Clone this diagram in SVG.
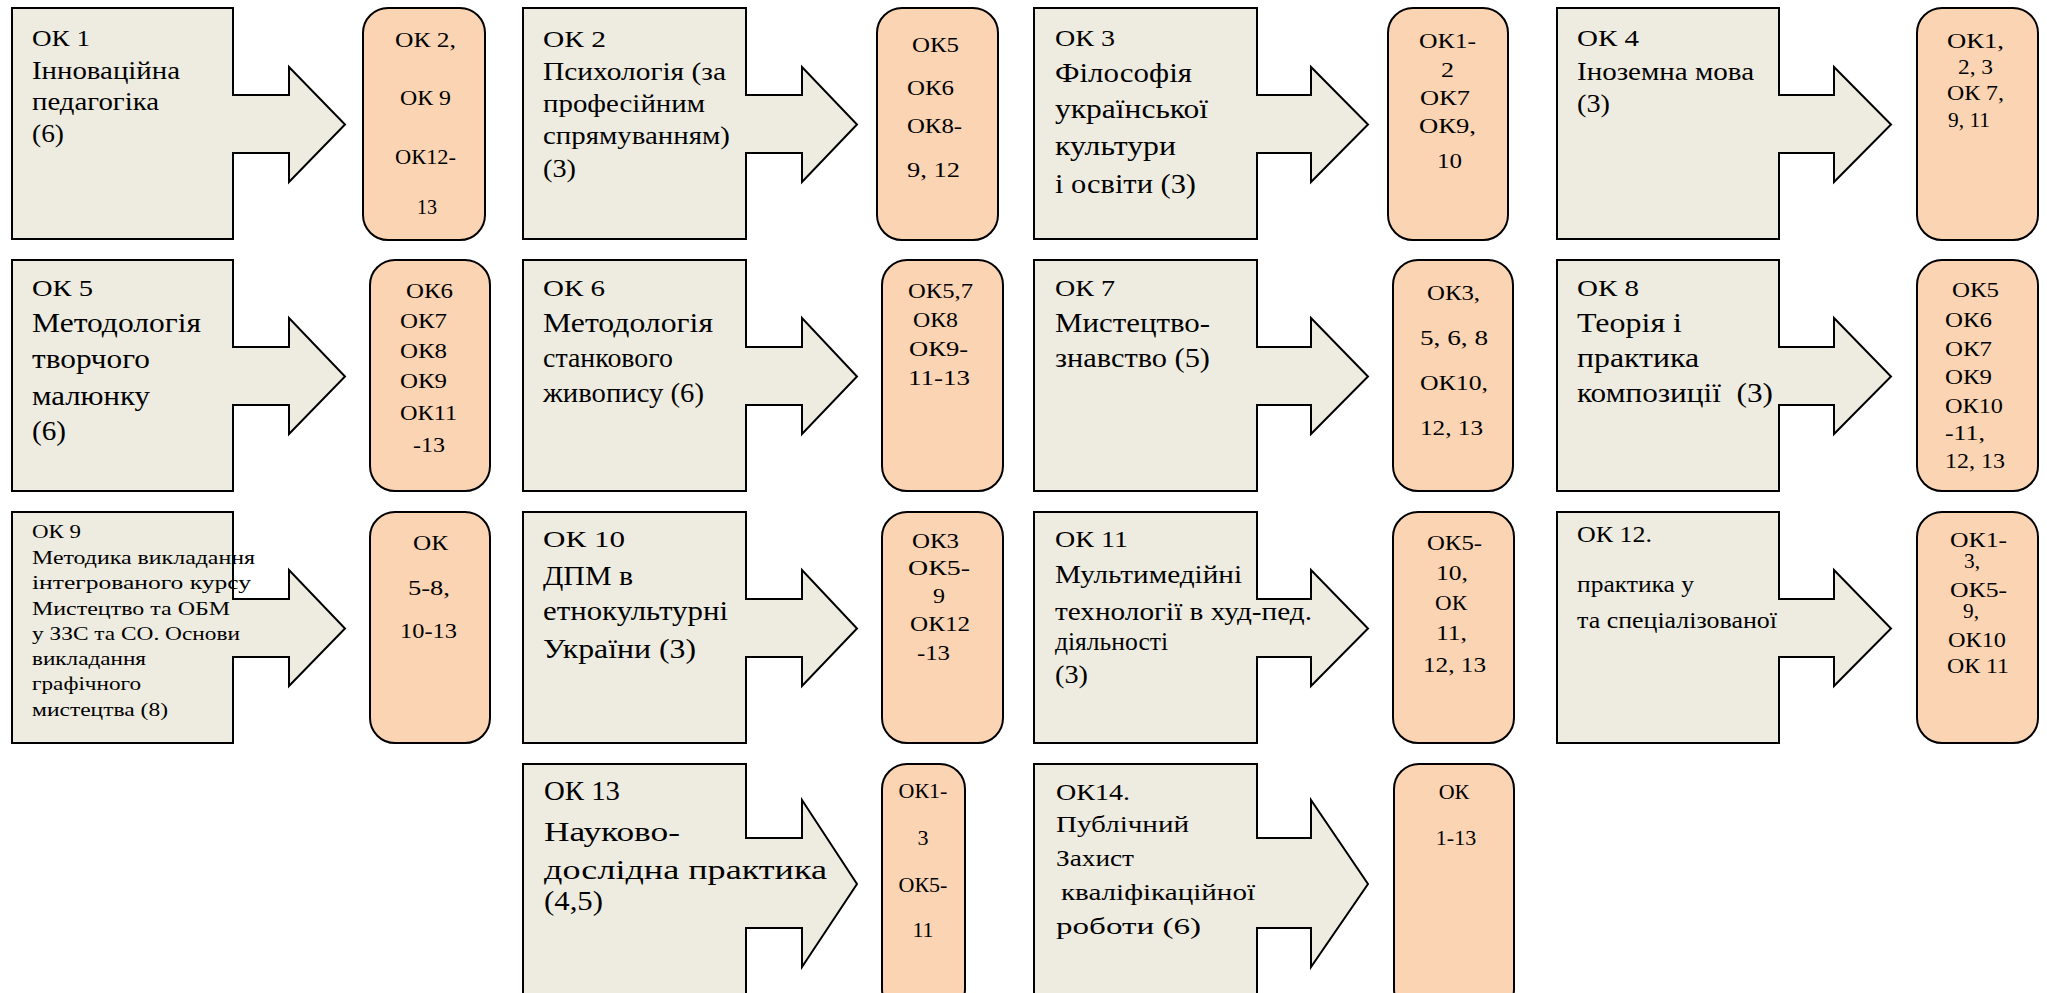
<svg xmlns="http://www.w3.org/2000/svg" width="2047" height="993" viewBox="0 0 2047 993" font-family="'Liberation Serif', Tinos, 'DejaVu Serif', serif">
<style>
.box{fill:#EEECE1;stroke:#000;stroke-width:2;stroke-linejoin:miter}
.rb{fill:#FBD4B4;stroke:#000;stroke-width:2}
text{font-family:'Liberation Serif', Tinos, 'DejaVu Serif', serif;fill:#000}
.a{font-size:24px}
.d{font-size:26px}
.b{font-size:27px}
.c{font-size:18px}
.r{font-size:22px}
</style>
<rect width="2047" height="993" fill="#fff"/>
<g id="connectors"></g>

<!-- Row 1 -->
<g id="ok1">
<path class="box" d="M12,8H233V95H289V67L345,124.5L289,182V153H233V239H12Z"/>
<text class="a" x="32" y="46" textLength="58" lengthAdjust="spacingAndGlyphs">ОК 1</text>
<text class="d" x="32" y="79" textLength="148" lengthAdjust="spacingAndGlyphs">Інноваційна</text>
<text class="d" x="32" y="110" textLength="127" lengthAdjust="spacingAndGlyphs">педагогіка</text>
<text class="d" x="32" y="142" textLength="32" lengthAdjust="spacingAndGlyphs">(6)</text>
</g>
<g id="ok1-out">
<rect class="rb" x="363" y="8" width="122" height="232" rx="25"/>
<text class="r" x="395" y="47" textLength="61" lengthAdjust="spacingAndGlyphs">ОК 2,</text>
<text class="r" x="400" y="105" textLength="51" lengthAdjust="spacingAndGlyphs">ОК 9</text>
<text class="r" x="395" y="164" textLength="61" lengthAdjust="spacingAndGlyphs">ОК12-</text>
<text class="r" x="417" y="214" textLength="20" lengthAdjust="spacingAndGlyphs">13</text>
</g>

<g id="ok2">
<path class="box" d="M523,8H746V95H802V67L857,124.5L802,182V153H746V239H523Z"/>
<text class="a" x="543" y="47" textLength="63" lengthAdjust="spacingAndGlyphs">ОК 2</text>
<text class="d" x="543" y="80" textLength="183" lengthAdjust="spacingAndGlyphs">Психологія (за</text>
<text class="d" x="543" y="112" textLength="162" lengthAdjust="spacingAndGlyphs">професійним</text>
<text class="d" x="543" y="144" textLength="187" lengthAdjust="spacingAndGlyphs">спрямуванням)</text>
<text class="d" x="543" y="177" textLength="33" lengthAdjust="spacingAndGlyphs">(3)</text>
</g>
<g id="ok2-out">
<rect class="rb" x="877" y="8" width="121" height="232" rx="25"/>
<text class="r" x="912" y="52" textLength="47" lengthAdjust="spacingAndGlyphs">ОК5</text>
<text class="r" x="907" y="95" textLength="47" lengthAdjust="spacingAndGlyphs">ОК6</text>
<text class="r" x="907" y="133" textLength="55" lengthAdjust="spacingAndGlyphs">ОК8-</text>
<text class="r" x="907" y="177" textLength="53" lengthAdjust="spacingAndGlyphs">9, 12</text>
</g>

<g id="ok3">
<path class="box" d="M1034,8H1257V95H1311V67L1368,124.5L1311,182V153H1257V239H1034Z"/>
<text class="a" x="1055" y="46" textLength="60" lengthAdjust="spacingAndGlyphs">ОК 3</text>
<text class="b" x="1055" y="82" textLength="137" lengthAdjust="spacingAndGlyphs">Філософія</text>
<text class="b" x="1055" y="118" textLength="153" lengthAdjust="spacingAndGlyphs">української</text>
<text class="b" x="1055" y="155" textLength="121" lengthAdjust="spacingAndGlyphs">культури</text>
<text class="b" x="1055" y="193" textLength="141" lengthAdjust="spacingAndGlyphs">і освіти (3)</text>
</g>
<g id="ok3-out">
<rect class="rb" x="1388" y="8" width="120" height="232" rx="25"/>
<text class="r" x="1419" y="48" textLength="57" lengthAdjust="spacingAndGlyphs">ОК1-</text>
<text class="r" x="1441" y="77" textLength="13" lengthAdjust="spacingAndGlyphs">2</text>
<text class="r" x="1420" y="105" textLength="50" lengthAdjust="spacingAndGlyphs">ОК7</text>
<text class="r" x="1419" y="133" textLength="57" lengthAdjust="spacingAndGlyphs">ОК9,</text>
<text class="r" x="1437" y="168" textLength="25" lengthAdjust="spacingAndGlyphs">10</text>
</g>

<g id="ok4">
<path class="box" d="M1557,8H1779V95H1834V67L1891,124.5L1834,182V153H1779V239H1557Z"/>
<text class="a" x="1577" y="46" textLength="62" lengthAdjust="spacingAndGlyphs">ОК 4</text>
<text class="d" x="1577" y="80" textLength="177" lengthAdjust="spacingAndGlyphs">Іноземна мова</text>
<text class="d" x="1577" y="112" textLength="33" lengthAdjust="spacingAndGlyphs">(3)</text>
</g>
<g id="ok4-out">
<rect class="rb" x="1917" y="8" width="121" height="232" rx="25"/>
<text class="r" x="1947" y="48" textLength="57" lengthAdjust="spacingAndGlyphs">ОК1,</text>
<text class="r" x="1958" y="74" textLength="35" lengthAdjust="spacingAndGlyphs">2, 3</text>
<text class="r" x="1947" y="100" textLength="57" lengthAdjust="spacingAndGlyphs">ОК 7,</text>
<text class="r" x="1948" y="127" textLength="42" lengthAdjust="spacingAndGlyphs">9, 11</text>
</g>

<!-- Row 2 -->
<g id="ok5">
<path class="box" d="M12,260H233V347H289V318L345,376.5L289,434V405H233V491H12Z"/>
<text class="a" x="32" y="296" textLength="61" lengthAdjust="spacingAndGlyphs">ОК 5</text>
<text class="b" x="32" y="332" textLength="169" lengthAdjust="spacingAndGlyphs">Методологія</text>
<text class="b" x="32" y="368" textLength="118" lengthAdjust="spacingAndGlyphs">творчого</text>
<text class="b" x="32" y="405" textLength="118" lengthAdjust="spacingAndGlyphs">малюнку</text>
<text class="b" x="32" y="440" textLength="34" lengthAdjust="spacingAndGlyphs">(6)</text>
</g>
<g id="ok5-out">
<rect class="rb" x="370" y="260" width="120" height="231" rx="25"/>
<text class="r" x="406" y="298" textLength="47" lengthAdjust="spacingAndGlyphs">ОК6</text>
<text class="r" x="400" y="328" textLength="47" lengthAdjust="spacingAndGlyphs">ОК7</text>
<text class="r" x="400" y="358" textLength="47" lengthAdjust="spacingAndGlyphs">ОК8</text>
<text class="r" x="400" y="388" textLength="47" lengthAdjust="spacingAndGlyphs">ОК9</text>
<text class="r" x="400" y="420" textLength="57" lengthAdjust="spacingAndGlyphs">ОК11</text>
<text class="r" x="413" y="452" textLength="32" lengthAdjust="spacingAndGlyphs">-13</text>
</g>

<g id="ok6">
<path class="box" d="M523,260H746V347H802V318L857,376.5L802,434V405H746V491H523Z"/>
<text class="a" x="543" y="296" textLength="62" lengthAdjust="spacingAndGlyphs">ОК 6</text>
<text class="b" x="543" y="332" textLength="170" lengthAdjust="spacingAndGlyphs">Методологія</text>
<text class="b" x="543" y="367" textLength="130" lengthAdjust="spacingAndGlyphs">станкового</text>
<text class="b" x="543" y="402" textLength="161" lengthAdjust="spacingAndGlyphs">живопису (6)</text>
</g>
<g id="ok6-out">
<rect class="rb" x="882" y="260" width="121" height="231" rx="25"/>
<text class="r" x="908" y="298" textLength="65" lengthAdjust="spacingAndGlyphs">ОК5,7</text>
<text class="r" x="913" y="327" textLength="45" lengthAdjust="spacingAndGlyphs">ОК8</text>
<text class="r" x="909" y="356" textLength="59" lengthAdjust="spacingAndGlyphs">ОК9-</text>
<text class="r" x="908" y="385" textLength="62" lengthAdjust="spacingAndGlyphs">11-13</text>
</g>

<g id="ok7">
<path class="box" d="M1034,260H1257V347H1311V318L1368,376.5L1311,434V405H1257V491H1034Z"/>
<text class="a" x="1055" y="296" textLength="60" lengthAdjust="spacingAndGlyphs">ОК 7</text>
<text class="b" x="1055" y="332" textLength="155" lengthAdjust="spacingAndGlyphs">Мистецтво-</text>
<text class="b" x="1055" y="367" textLength="155" lengthAdjust="spacingAndGlyphs">знавство (5)</text>
</g>
<g id="ok7-out">
<rect class="rb" x="1393" y="260" width="120" height="231" rx="25"/>
<text class="r" x="1427" y="300" textLength="53" lengthAdjust="spacingAndGlyphs">ОК3,</text>
<text class="r" x="1420" y="345" textLength="68" lengthAdjust="spacingAndGlyphs">5, 6, 8</text>
<text class="r" x="1420" y="390" textLength="68" lengthAdjust="spacingAndGlyphs">ОК10,</text>
<text class="r" x="1420" y="435" textLength="63" lengthAdjust="spacingAndGlyphs">12, 13</text>
</g>

<g id="ok8">
<path class="box" d="M1557,260H1779V347H1834V318L1891,376.5L1834,434V405H1779V491H1557Z"/>
<text class="a" x="1577" y="296" textLength="62" lengthAdjust="spacingAndGlyphs">ОК 8</text>
<text class="b" x="1577" y="332" textLength="105" lengthAdjust="spacingAndGlyphs">Теорія і</text>
<text class="b" x="1577" y="367" textLength="122" lengthAdjust="spacingAndGlyphs">практика</text>
<text class="b" x="1577" y="402" textLength="196" lengthAdjust="spacingAndGlyphs" xml:space="preserve">композиції  (3)</text>
</g>
<g id="ok8-out">
<rect class="rb" x="1917" y="260" width="121" height="231" rx="25"/>
<text class="r" x="1952" y="297" textLength="47" lengthAdjust="spacingAndGlyphs">ОК5</text>
<text class="r" x="1945" y="327" textLength="47" lengthAdjust="spacingAndGlyphs">ОК6</text>
<text class="r" x="1945" y="356" textLength="47" lengthAdjust="spacingAndGlyphs">ОК7</text>
<text class="r" x="1945" y="384" textLength="47" lengthAdjust="spacingAndGlyphs">ОК9</text>
<text class="r" x="1945" y="413" textLength="58" lengthAdjust="spacingAndGlyphs">ОК10</text>
<text class="r" x="1945" y="440" textLength="40" lengthAdjust="spacingAndGlyphs">-11,</text>
<text class="r" x="1945" y="468" textLength="60" lengthAdjust="spacingAndGlyphs">12, 13</text>
</g>

<!-- Row 3 -->
<g id="ok9">
<path class="box" d="M12,512H233V599H289V570L345,628.5L289,686V657H233V743H12Z"/>
<text class="c" x="32" y="538" textLength="49" lengthAdjust="spacingAndGlyphs">ОК 9</text>
<text class="c" x="32" y="564" textLength="223" lengthAdjust="spacingAndGlyphs">Методика викладання</text>
<text class="c" x="32" y="589" textLength="219" lengthAdjust="spacingAndGlyphs">інтегрованого курсу</text>
<text class="c" x="32" y="615" textLength="198" lengthAdjust="spacingAndGlyphs">Мистецтво та ОБМ</text>
<text class="c" x="32" y="640" textLength="208" lengthAdjust="spacingAndGlyphs">у ЗЗС та СО. Основи</text>
<text class="c" x="32" y="665" textLength="114" lengthAdjust="spacingAndGlyphs">викладання</text>
<text class="c" x="32" y="690" textLength="109" lengthAdjust="spacingAndGlyphs">графічного</text>
<text class="c" x="32" y="716" textLength="136" lengthAdjust="spacingAndGlyphs">мистецтва (8)</text>
</g>
<g id="ok9-out">
<rect class="rb" x="370" y="512" width="120" height="231" rx="25"/>
<text class="r" x="413" y="550" textLength="35" lengthAdjust="spacingAndGlyphs">ОК</text>
<text class="r" x="408" y="595" textLength="42" lengthAdjust="spacingAndGlyphs">5-8,</text>
<text class="r" x="400" y="638" textLength="57" lengthAdjust="spacingAndGlyphs">10-13</text>
</g>

<g id="ok10">
<path class="box" d="M523,512H746V599H802V570L857,628.5L802,686V657H746V743H523Z"/>
<text class="a" x="543" y="547" textLength="82" lengthAdjust="spacingAndGlyphs">ОК 10</text>
<text class="b" x="543" y="585" textLength="90" lengthAdjust="spacingAndGlyphs">ДПМ в</text>
<text class="b" x="543" y="620" textLength="185" lengthAdjust="spacingAndGlyphs">етнокультурні</text>
<text class="b" x="543" y="658" textLength="153" lengthAdjust="spacingAndGlyphs">України (3)</text>
</g>
<g id="ok10-out">
<rect class="rb" x="882" y="512" width="121" height="231" rx="25"/>
<text class="r" x="912" y="548" textLength="47" lengthAdjust="spacingAndGlyphs">ОК3</text>
<text class="r" x="908" y="575" textLength="62" lengthAdjust="spacingAndGlyphs">ОК5-</text>
<text class="r" x="933" y="603" textLength="12" lengthAdjust="spacingAndGlyphs">9</text>
<text class="r" x="910" y="631" textLength="60" lengthAdjust="spacingAndGlyphs">ОК12</text>
<text class="r" x="917" y="660" textLength="33" lengthAdjust="spacingAndGlyphs">-13</text>
</g>

<g id="ok11">
<path class="box" d="M1034,512H1257V599H1311V570L1368,628.5L1311,686V657H1257V743H1034Z"/>
<text class="a" x="1055" y="547" textLength="73" lengthAdjust="spacingAndGlyphs">ОК 11</text>
<text class="d" x="1055" y="583" textLength="187" lengthAdjust="spacingAndGlyphs">Мультимедійні</text>
<text class="d" x="1055" y="620" textLength="257" lengthAdjust="spacingAndGlyphs">технології в худ-пед.</text>
<text class="d" x="1055" y="650" textLength="113" lengthAdjust="spacingAndGlyphs">діяльності</text>
<text class="d" x="1055" y="683" textLength="33" lengthAdjust="spacingAndGlyphs">(3)</text>
</g>
<g id="ok11-out">
<rect class="rb" x="1393" y="512" width="121" height="231" rx="25"/>
<text class="r" x="1427" y="550" textLength="55" lengthAdjust="spacingAndGlyphs">ОК5-</text>
<text class="r" x="1436" y="580" textLength="32" lengthAdjust="spacingAndGlyphs">10,</text>
<text class="r" x="1435" y="610" textLength="32" lengthAdjust="spacingAndGlyphs">ОК</text>
<text class="r" x="1436" y="640" textLength="31" lengthAdjust="spacingAndGlyphs">11,</text>
<text class="r" x="1423" y="672" textLength="63" lengthAdjust="spacingAndGlyphs">12, 13</text>
</g>

<g id="ok12">
<path class="box" d="M1557,512H1779V599H1834V570L1891,628.5L1834,686V657H1779V743H1557Z"/>
<text class="a" x="1577" y="542" textLength="75" lengthAdjust="spacingAndGlyphs">ОК 12.</text>
<text class="a" x="1577" y="592" textLength="117" lengthAdjust="spacingAndGlyphs">практика у</text>
<text class="a" x="1577" y="628" textLength="200" lengthAdjust="spacingAndGlyphs">та спеціалізованої</text>
</g>
<g id="ok12-out">
<rect class="rb" x="1917" y="512" width="121" height="231" rx="25"/>
<text class="r" x="1950" y="547" textLength="57" lengthAdjust="spacingAndGlyphs">ОК1-</text>
<text class="r" x="1964" y="568" textLength="16" lengthAdjust="spacingAndGlyphs">3,</text>
<text class="r" x="1950" y="597" textLength="57" lengthAdjust="spacingAndGlyphs">ОК5-</text>
<text class="r" x="1963" y="618" textLength="16" lengthAdjust="spacingAndGlyphs">9,</text>
<text class="r" x="1948" y="647" textLength="58" lengthAdjust="spacingAndGlyphs">ОК10</text>
<text class="r" x="1947" y="673" textLength="62" lengthAdjust="spacingAndGlyphs">ОК 11</text>
</g>

<!-- Row 4 -->
<g id="ok13">
<path class="box" d="M523,764H746V838H802V800L857,884L802,967V928H746V1010H523Z"/>
<text class="b" x="544" y="800" textLength="76" lengthAdjust="spacingAndGlyphs">ОК 13</text>
<text class="b" x="544" y="841" textLength="136" lengthAdjust="spacingAndGlyphs">Науково-</text>
<text class="b" x="544" y="879" textLength="283" lengthAdjust="spacingAndGlyphs">дослідна практика</text>
<text class="b" x="544" y="910" textLength="59" lengthAdjust="spacingAndGlyphs">(4,5)</text>
</g>
<g id="ok13-out">
<rect class="rb" x="882" y="764" width="83" height="250" rx="25"/>
<text class="r" x="923" y="798" text-anchor="middle">ОК1-</text>
<text class="r" x="923" y="845" text-anchor="middle">3</text>
<text class="r" x="923" y="892" text-anchor="middle">ОК5-</text>
<text class="r" x="923" y="937" text-anchor="middle">11</text>
</g>

<g id="ok14">
<path class="box" d="M1034,764H1257V838H1311V800L1368,884L1311,967V928H1257V1010H1034Z"/>
<text class="a" x="1056" y="800" textLength="74" lengthAdjust="spacingAndGlyphs">ОК14.</text>
<text class="a" x="1056" y="832" textLength="133" lengthAdjust="spacingAndGlyphs">Публічний</text>
<text class="a" x="1056" y="866" textLength="78" lengthAdjust="spacingAndGlyphs">Захист</text>
<text class="a" x="1061" y="900" textLength="194" lengthAdjust="spacingAndGlyphs">кваліфікаційної</text>
<text class="a" x="1056" y="934" textLength="145" lengthAdjust="spacingAndGlyphs">роботи (6)</text>
</g>
<g id="ok14-out">
<rect class="rb" x="1394" y="764" width="120" height="250" rx="25"/>
<text class="r" x="1454" y="799" text-anchor="middle">ОК</text>
<text class="r" x="1456" y="845" text-anchor="middle">1-13</text>
</g>
</svg>
